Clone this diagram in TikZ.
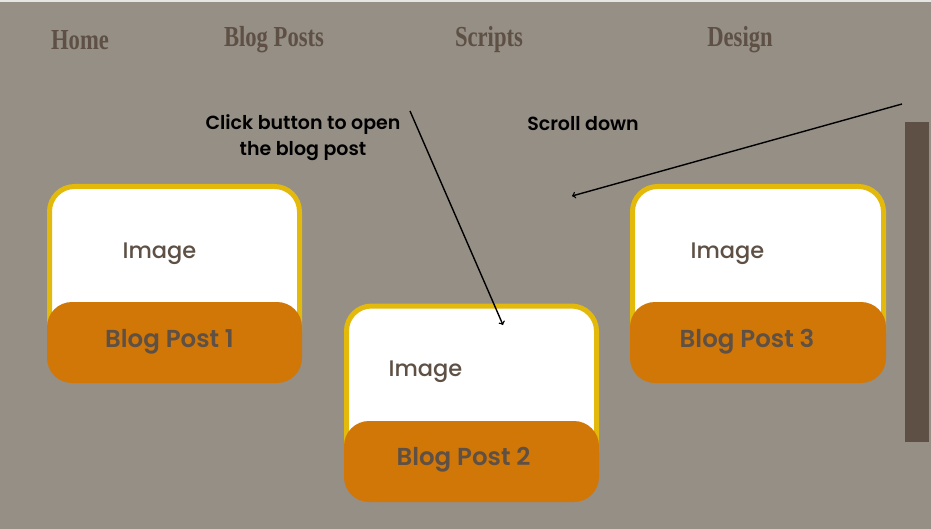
\documentclass[tikz,border=0pt]{standalone}
\usepackage{fontspec}
\usepackage{xcolor}
\setmainfont{Poppins}
\newfontfamily\semifont{Poppins SemiBold}
\newfontfamily\medfont{Poppins Medium}
\newfontfamily\navfont[FakeStretch=0.78]{Liberation Serif Bold}
\definecolor{pagebg}{HTML}{968F85}
\definecolor{cardyellow}{HTML}{E3B90B}
\definecolor{postorange}{HTML}{D07708}
\definecolor{inkbrown}{HTML}{5E5044}
\newcommand{\CardW}{250}
\newcommand{\CardH}{171}
\newcommand{\PostW}{255}
\newcommand{\PostH}{81}

\tikzset{
  card/.style={draw=cardyellow, line width=5pt, fill=white, rounded corners=25pt,
    minimum width=\CardW pt, minimum height=\CardH pt, inner sep=0pt},
  post/.style={fill=postorange, rounded corners=25pt, minimum width=\PostW pt,
    minimum height=\PostH pt, inner sep=0pt},
  posttext/.style={text=inkbrown, font=\semifont\fontsize{24.5}{26}\selectfont},
  imgtext/.style={text=inkbrown, font=\medfont\fontsize{22.5}{26}\selectfont},
  navitem/.style={text=inkbrown, font=\navfont\fontsize{29}{30}\selectfont},
  note/.style={text=black, align=center, font=\semifont\fontsize{19}{26}\selectfont},
  pointer/.style={->, line width=1.4pt, black}
}

\begin{document}
\begin{tikzpicture}[x=1pt, y=-1pt]
\fill[pagebg] (0,0) rectangle (931,529);
\fill[black!10] (0,0) rectangle (931,2);
\useasboundingbox (0,0) rectangle (931,529);

% menu
\node[navitem] (home) at (80,40) {Home};
\node[navitem] (blogposts) at (274,40) {Blog Posts};
\node[navitem] (scripts) at (489,40) {Scripts};
\node[navitem] (design) at (740,40) {Design};

% cards
\node[card] (card1) at (174.5,272) {};
\node[post] (post1) at (174.5,342.5) {};
\node[imgtext] (img1) at (159.5,254) {Image};
\node[posttext] (title1) at (169.5,342) {Blog Post 1};

\node[card] (card2) at (471.5,391.5) {};
\node[post] (post2) at (471.5,461.5) {};
\node[imgtext] (img2) at (425.5,372) {Image};
\node[posttext] (title2) at (463.5,460) {Blog Post 2};

\node[card, minimum width=251pt] (card3) at (758,272) {};
\node[post, minimum width=256pt] (post3) at (758,342.5) {};
\node[imgtext] (img3) at (727.5,254) {Image};
\node[posttext] (title3) at (747,342) {Blog Post 3};

% scroll bar
\fill[inkbrown] (905,122) rectangle (929,442);

% notes
\node[note] (clicknote) at (303,138) {Click button to open\\the blog post};
\node[note] (scrollnote) at (583,123.5) {Scroll down};

\coordinate (clickfrom) at (410,111);
\coordinate (clickto) at (503,325);
\coordinate (scrollfrom) at (902,104);
\coordinate (scrollto) at (572,196);
\draw[pointer] (clickfrom) -- (clickto);
\draw[pointer] (scrollfrom) -- (scrollto);
\end{tikzpicture}
\end{document}
